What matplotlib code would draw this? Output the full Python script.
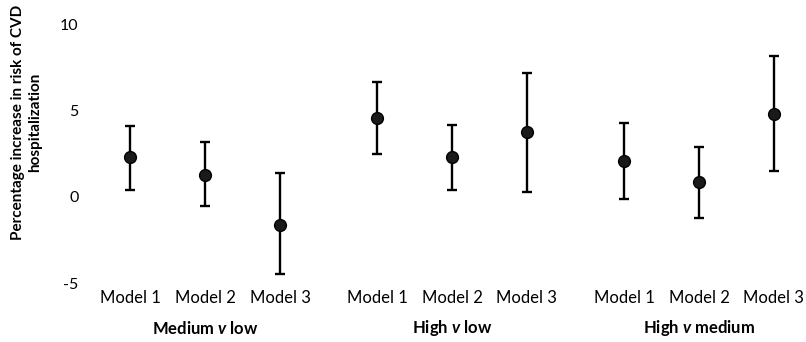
import numpy as np
import matplotlib.pyplot as plt

plt.rcParams['font.family'] = ['Lato', 'DejaVu Sans']
plt.rcParams['mathtext.fontset'] = 'custom'
plt.rcParams['mathtext.bfit'] = 'Lato:italic:bold'

models = ["Model 1", "Model 2", "Model 3"]
groups = ["Medium $\\mathbfit{v}$ low", "High $\\mathbfit{v}$ low", "High $\\mathbfit{v}$ medium"]
est = [2.3, 1.3, -1.6, 4.6, 2.3, 3.8, 2.1, 0.9, 4.8]
lo = [0.4, -0.5, -4.5, 2.5, 0.4, 0.3, -0.1, -1.2, 1.5]
hi = [4.1, 3.2, 1.4, 6.7, 4.2, 7.2, 4.3, 2.9, 8.2]

# three models per group, extra gap between groups
pos = np.array([0, 1, 2, 3.3, 4.3, 5.3, 6.6, 7.6, 8.6])
est = np.array(est)
err = [est - np.array(lo), np.array(hi) - est]

fig = plt.figure(figsize=(8.06, 3.42), dpi=100)
ax = fig.add_axes([0.118, 0.1725, 0.882, 0.7545])

ax.errorbar(pos, est, yerr=err, fmt='o', color='black', ecolor='black',
            elinewidth=1.7, capsize=3.5, capthick=1.7, markersize=8.5,
            markerfacecolor='#1a1a1a', markeredgecolor='black')

ax.set_xlim(-0.47, 9.03)
ax.set_ylim(-5, 10)
ax.set_yticks([-5, 0, 5, 10])
ax.set_yticklabels(["-5", "0", "5", "10"], fontsize=11.5)
ax.set_xticks(pos)
ax.set_xticklabels(models * 3, fontsize=12)
ax.tick_params(length=0)
ax.tick_params(axis='y', pad=12)
ax.tick_params(axis='x', pad=5)
for s in ax.spines.values():
    s.set_visible(False)

for i, g in enumerate(groups):
    ax.text(pos[3 * i + 1], -0.175, g, transform=ax.get_xaxis_transform(),
            ha='center', va='center', fontsize=12, fontweight='bold')

fig.text(0.033, 0.643, "Percentage increase in risk of CVD\nhospitalization",
         rotation=90, ha='center', va='center', fontsize=11,
         fontweight='bold', linespacing=1.35)

fig.savefig('out.png', dpi=100)
